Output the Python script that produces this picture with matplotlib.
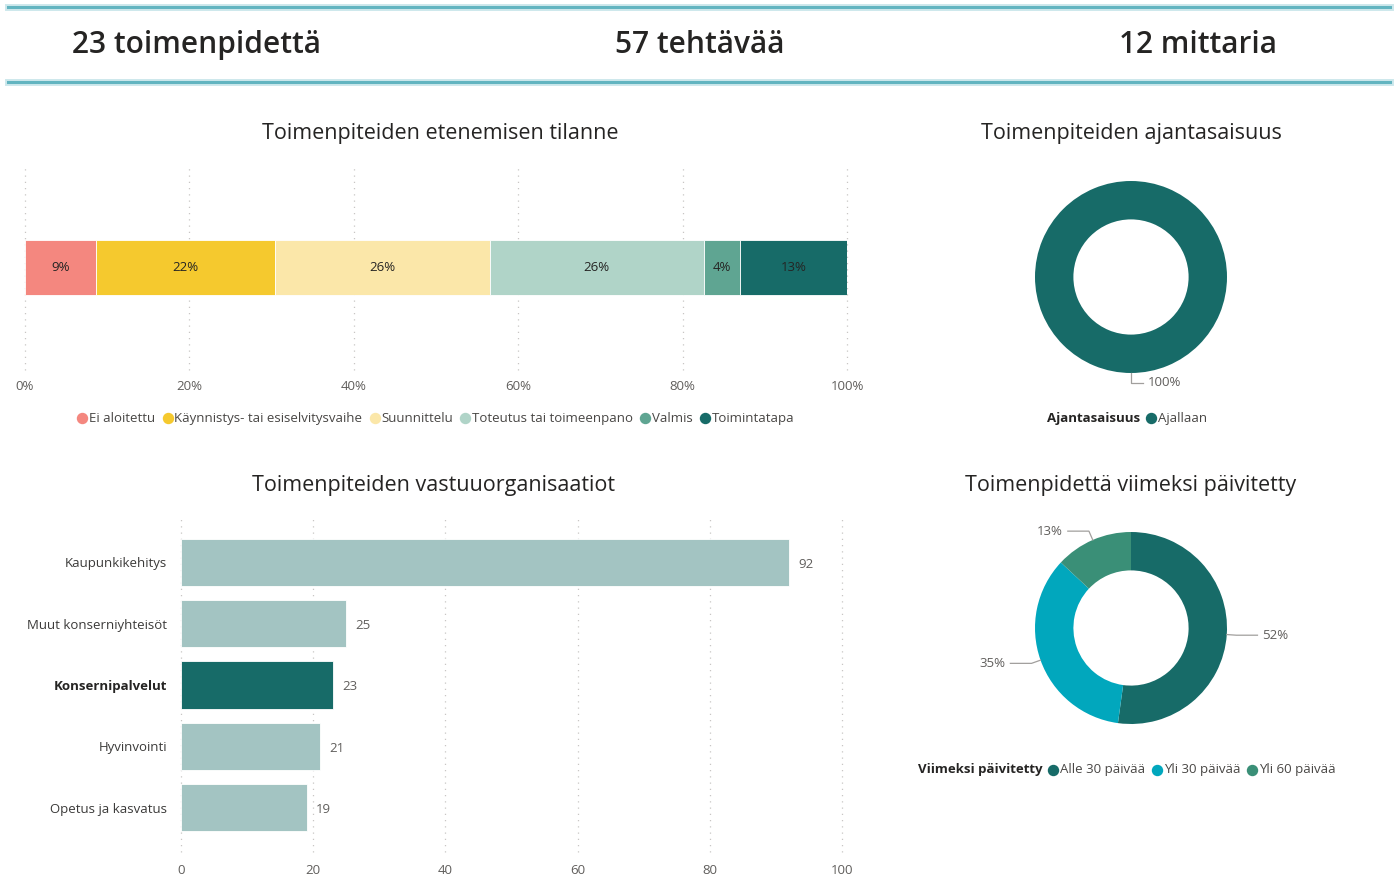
import numpy as np
import matplotlib.pyplot as plt

plt.rcParams['font.family'] = ['Open Sans', 'DejaVu Sans']

W, H = 1395, 877

# KPI header
kpi_texts = ['23 toimenpidettä', '57 tehtävää', '12 mittaria']

# progress of measures (count of measures per phase)
phase_names = ['Ei aloitettu', 'Käynnistys- tai esiselvitysvaihe', 'Suunnittelu',
               'Toteutus tai toimeenpano', 'Valmis', 'Toimintatapa']
phase_counts = [2, 5, 6, 6, 1, 3]
phase_colors = ['#F4877F', '#F5C92E', '#FBE7A9', '#B0D4C8', '#5FA592', '#176B68']

# timeliness
timely_names = ['Ajallaan']
timely_counts = [23]
timely_colors = ['#176B68']

# responsible organisations
org_names = ['Kaupunkikehitys', 'Muut konserniyhteisöt', 'Konsernipalvelut',
             'Hyvinvointi', 'Opetus ja kasvatus']
org_values = [92, 25, 23, 21, 19]
org_highlight = 'Konsernipalvelut'

# last updated
upd_names = ['Alle 30 päivää', 'Yli 30 päivää', 'Yli 60 päivää']
upd_counts = [12, 8, 3]
upd_colors = ['#176B68', '#01A7BD', '#3A8F77']

TXT = '#252423'
GREY = '#605E5C'
GRID = '#C8C6C4'


def fx(x):
    return x / W


def fy(y):
    return 1 - y / H


def rect(x0, y0, x1, y1):
    return [x0 / W, 1 - y1 / H, (x1 - x0) / W, (y1 - y0) / H]


fig = plt.figure(figsize=(W / 100, H / 100), dpi=100)
fig.patch.set_facecolor('white')

# header band
for yy in (7, 82):
    fig.add_artist(plt.Line2D([fx(8), fx(1390)], [fy(yy), fy(yy)], color='#CDE8EC', lw=5.0))
    fig.add_artist(plt.Line2D([fx(8), fx(1390)], [fy(yy), fy(yy)], color='#62B4C0', lw=2.2))
for txt, xc in zip(kpi_texts, [197, 700, 1198]):
    fig.text(fx(xc), fy(45), txt, ha='center', va='center', fontsize=21.5, color=TXT,
             fontweight='semibold')

# chart titles
titles = [('Toimenpiteiden etenemisen tilanne', 440, 133),
          ('Toimenpiteiden ajantasaisuus', 1131, 133),
          ('Toimenpiteiden vastuuorganisaatiot', 433, 485),
          ('Toimenpidettä viimeksi päivitetty', 1131, 485)]
for t, xc, yc in titles:
    fig.text(fx(xc), fy(yc), t, ha='center', va='center', fontsize=15.5, color=TXT)


def dotted_grid(ax):
    ax.grid(axis='x', color=GRID, linestyle=(0, (1, 4)), linewidth=0.9)
    for gl in ax.get_xgridlines():
        gl.set_clip_on(False)
    ax.set_axisbelow(True)
    for s in ax.spines.values():
        s.set_visible(False)
    ax.tick_params(length=0, colors=GREY, labelsize=9.5)


# ---- stacked progress bar ----
ax1 = fig.add_axes(rect(25, 165, 847, 370))
shares = np.array(phase_counts) / sum(phase_counts) * 100
left = 0
for name, val, col in zip(phase_names, shares, phase_colors):
    ax1.barh(0, val, left=left, height=0.268, color=col, edgecolor='white', linewidth=0.6)
    ax1.text(left + val / 2, 0, f'{val:.0f}%', ha='center', va='center', fontsize=9.5, color=TXT)
    left += val
ax1.set_xlim(0, 100)
ax1.set_ylim(-0.5, 0.5)
ax1.set_yticks([])
ax1.set_xticks(range(0, 101, 20))
ax1.set_xticklabels([f'{v}%' for v in range(0, 101, 20)])
dotted_grid(ax1)
ax1.tick_params(axis='x', pad=7)


def legend_row(items, y, x_center, colors, title=None, size=9.5):
    # lay out a Power BI style legend row centred on x_center
    r = fig.canvas.get_renderer()
    parts = []
    if title:
        t = fig.text(0, fy(y), title, fontsize=size, fontweight='bold', color=TXT, va='center')
        parts.append(('title', t))
    for name, c in zip(items, colors):
        t = fig.text(0, fy(y), name, fontsize=size, color='#484644', va='center')
        parts.append((c, t))
    widths = []
    for kind, t in parts:
        w = t.get_window_extent(r).width
        widths.append(w + (14 if kind != 'title' else 0) + 5)
    total = sum(widths) - 5
    x = x_center - total / 2
    for (kind, t), w in zip(parts, widths):
        if kind == 'title':
            t.set_x(fx(x))
        else:
            fig.add_artist(plt.Line2D([fx(x + 5)], [fy(y)], marker='o', markersize=7.2,
                                      color=kind, linestyle='none'))
            t.set_x(fx(x + 12))
        x += w


legend_row(phase_names, 418, 437, phase_colors)


# ---- donuts ----
def donut(cx, cy, counts, colors, label_len):
    half = 150
    ax = fig.add_axes(rect(cx - half, cy - half, cx + half, cy + half))
    lim = half / 96
    wedges, _ = ax.pie(counts, colors=colors, startangle=90, counterclock=False, radius=1,
                       wedgeprops=dict(width=0.4, edgecolor='none'))
    ax.set_xlim(-lim, lim)
    ax.set_ylim(-lim, lim)
    ax.set_aspect('equal')
    ax.axis('off')
    total = sum(counts)
    for w, c in zip(wedges, counts):
        ang = np.deg2rad((w.theta1 + w.theta2) / 2)
        x0, y0 = np.cos(ang) * 1.0, np.sin(ang) * 1.0
        x1, y1 = np.cos(ang) * 1.1, np.sin(ang) * 1.1
        side = 1 if x1 >= -0.01 else -1
        x2 = x1 + side * label_len
        ax.plot([x0, x1, x2], [y0, y1, y1], color='#A19F9D', lw=0.9, clip_on=False)
        ax.text(x2 + side * 0.05, y1, f'{c / total * 100:.0f}%', ha='left' if side > 0 else 'right',
                va='center', fontsize=9.5, color=GREY)
    return ax


donut(1131, 277, timely_counts, timely_colors, 0.12)
legend_row(timely_names, 418, 1128, timely_colors, title='Ajantasaisuus')

donut(1131, 628, upd_counts, upd_colors, 0.22)
legend_row(upd_names, 770, 1128, upd_colors, title='Viimeksi päivitetty')

# ---- organisations bar chart ----
ax3 = fig.add_axes(rect(181, 518, 842, 852))
ypos = np.arange(len(org_names))
bar_cols = ['#176B68' if n == org_highlight else '#A3C4C2' for n in org_names]
ax3.barh(ypos, org_values, height=0.77, color=bar_cols, edgecolor='white', linewidth=0.6)
for yv, v in zip(ypos, org_values):
    ax3.text(v + 1.4, yv + 0.03, str(v), ha='left', va='center', fontsize=9.5, color=GREY)
ax3.set_xlim(0, 100)
ax3.set_ylim(len(org_names) - 1 + 0.72, -0.72)
ax3.set_yticks(ypos)
ax3.set_yticklabels(org_names)
ax3.set_xticks(range(0, 101, 20))
dotted_grid(ax3)
ax3.tick_params(axis='y', pad=10, labelsize=9.5)
ax3.tick_params(axis='x', pad=9)
for lab in ax3.get_yticklabels():
    lab.set_color('#3B3A39')
    if lab.get_text() == org_highlight:
        lab.set_fontweight('bold')
        lab.set_color(TXT)

fig.savefig('out.png', dpi=100, facecolor='white')
